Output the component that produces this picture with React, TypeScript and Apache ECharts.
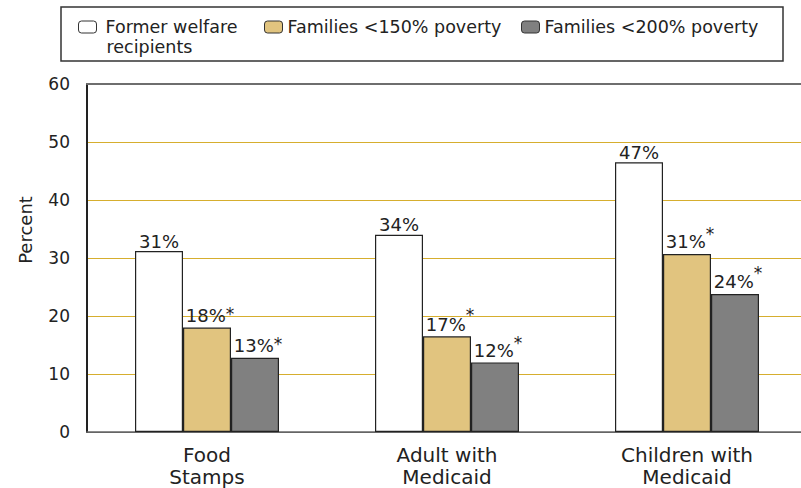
import React, { useEffect, useRef } from 'react';
import * as echarts from 'echarts';

const categories = ['Food\nStamps', 'Adult with\nMedicaid', 'Children with\nMedicaid'];
const seriesNames = ['Former welfare recipients', 'Families <150% poverty', 'Families <200% poverty'];
const formerWelfare = [31.2, 34, 46.5];
const poverty150 = [18, 16.5, 30.7];
const poverty200 = [12.8, 12, 23.8];
const formerLabels = ['31%', '34%', '47%'];
const labels150 = ['18%', '17%', '31%'];
const labels200 = ['13%', '12%', '24%'];
const yTicks = [0, 10, 20, 30, 40, 50, 60];

const FONT = 'DejaVu Sans';
const TXT = '#222222';
const GOLD = '#d6ae2e';

// how far each asterisk is raised (style only)
const starRaise150 = [2, 10, 8];
const starRaise200 = [2, 8, 9];

const richStyles: any = {
  v: { fontFamily: FONT, fontSize: 18, color: TXT, lineHeight: 20, verticalAlign: 'bottom' },
};
[2, 8, 9, 10].forEach((r) => {
  richStyles['s' + r] = {
    fontFamily: FONT,
    fontSize: 17,
    color: TXT,
    lineHeight: 20,
    verticalAlign: 'bottom',
    padding: [0, 0, r, 0],
  };
});

const CHART_W = 812;

export default function App() {
  const ref = useRef<HTMLDivElement>(null);

  useEffect(() => {
    if (!ref.current) return;
    const chart = echarts.init(ref.current, undefined, { renderer: 'svg' });

    const barBase = {
      type: 'bar' as const,
      barWidth: 48,
      barGap: '0%',
      barCategoryGap: '40%',
    };

    const legendText = { fontFamily: FONT, fontSize: 17.5, color: TXT, lineHeight: 17 };

    const option: any = {
      animation: false,
      backgroundColor: '#ffffff',
      textStyle: { fontFamily: FONT, color: TXT },
      grid: {
        left: 87,
        right: CHART_W - 807,
        top: 84,
        bottom: 53,
        show: false,
      },
      legend: [
        {
          data: [seriesNames[0]],
          left: 78,
          top: 18,
          padding: 0,
          itemWidth: 18,
          itemHeight: 12,
          formatter: () => 'Former welfare',
          itemStyle: { borderColor: '#333', borderWidth: 1 },
          textStyle: { ...legendText, padding: [0, 0, 0, 4] },
          selectedMode: false,
        },
        {
          data: [seriesNames[1]],
          left: 264,
          top: 18,
          padding: 0,
          itemWidth: 18,
          itemHeight: 12,
          itemStyle: { borderColor: '#333', borderWidth: 1 },
          textStyle: legendText,
          selectedMode: false,
        },
        {
          data: [seriesNames[2]],
          left: 521,
          top: 18,
          padding: 0,
          itemWidth: 18,
          itemHeight: 12,
          itemStyle: { borderColor: '#333', borderWidth: 1 },
          textStyle: legendText,
          selectedMode: false,
        },
      ],
      graphic: [
        {
          type: 'rect',
          shape: { x: 61, y: 7, width: 722, height: 54 },
          style: { fill: 'none', stroke: '#333', lineWidth: 1.5 },
          silent: true,
        },
        {
          type: 'text',
          x: 106.5,
          y: 47,
          style: {
            text: 'recipients',
            fontFamily: FONT,
            fontSize: 17.5,
            lineHeight: 17,
            fill: TXT,
            verticalAlign: 'middle',
            align: 'left',
          },
          silent: true,
        },
      ],
      xAxis: [
        {
          type: 'category',
          data: categories,
          axisLine: { show: true, lineStyle: { color: '#666', width: 1.5 } },
          axisTick: { show: false },
          axisLabel: {
            fontFamily: FONT,
            fontSize: 20,
            lineHeight: 22,
            color: TXT,
            margin: 12,
            interval: 0,
          },
          splitLine: { show: false },
        },
        {
          type: 'category',
          position: 'top',
          data: categories,
          axisLine: { show: true, lineStyle: { color: '#6e6e6e', width: 2 } },
          axisTick: { show: false },
          axisLabel: { show: false },
          splitLine: { show: false },
        },
      ],
      yAxis: {
        type: 'value',
        min: 0,
        max: 60,
        interval: 10,
        name: 'Percent',
        nameLocation: 'middle',
        nameRotate: 90,
        nameGap: 53,
        nameTextStyle: { fontFamily: FONT, fontSize: 18, color: TXT, padding: [0, 0, 0, 56] },
        axisLine: { show: true, lineStyle: { color: '#222', width: 2 } },
        axisTick: { show: false },
        axisLabel: {
          fontFamily: FONT,
          fontSize: 17,
          color: TXT,
          margin: 17,
          formatter: (v: number) => (yTicks.includes(v) ? String(v) : ''),
        },
        splitLine: {
          show: true,
          lineStyle: {
            color: ['#666666', GOLD, GOLD, GOLD, GOLD, GOLD, '#6e6e6e'],
            width: 1,
          },
        },
      },
      series: [
        {
          ...barBase,
          name: seriesNames[0],
          data: formerWelfare,
          itemStyle: { color: '#ffffff', borderColor: '#222', borderWidth: 1.2 },
          label: {
            show: true,
            position: 'top',
            distance: 1,
            formatter: (p: any) => `{v|${formerLabels[p.dataIndex]}}`,
            rich: richStyles,
          },
        },
        {
          ...barBase,
          name: seriesNames[1],
          data: poverty150,
          itemStyle: { color: '#e1c47f', borderColor: '#222', borderWidth: 1.2 },
          label: {
            show: true,
            position: 'top',
            distance: 3,
            offset: [3, 0],
            formatter: (p: any) => `{v|${labels150[p.dataIndex]}}{s${starRaise150[p.dataIndex]}|*}`,
            rich: richStyles,
          },
        },
        {
          ...barBase,
          name: seriesNames[2],
          data: poverty200,
          itemStyle: { color: '#808080', borderColor: '#222', borderWidth: 1.2 },
          label: {
            show: true,
            position: 'top',
            distance: 3,
            offset: [3, 0],
            formatter: (p: any) => `{v|${labels200[p.dataIndex]}}{s${starRaise200[p.dataIndex]}|*}`,
            rich: richStyles,
          },
        },
      ],
    };

    chart.setOption(option);
    return () => chart.dispose();
  }, []);

  return (
    <div
      style={{
        position: 'absolute',
        left: 0,
        top: 0,
        width: 801,
        height: 488,
        overflow: 'hidden',
        background: '#fff',
      }}
    >
      <div ref={ref} style={{ width: CHART_W, height: 488 }} />
    </div>
  );
}
